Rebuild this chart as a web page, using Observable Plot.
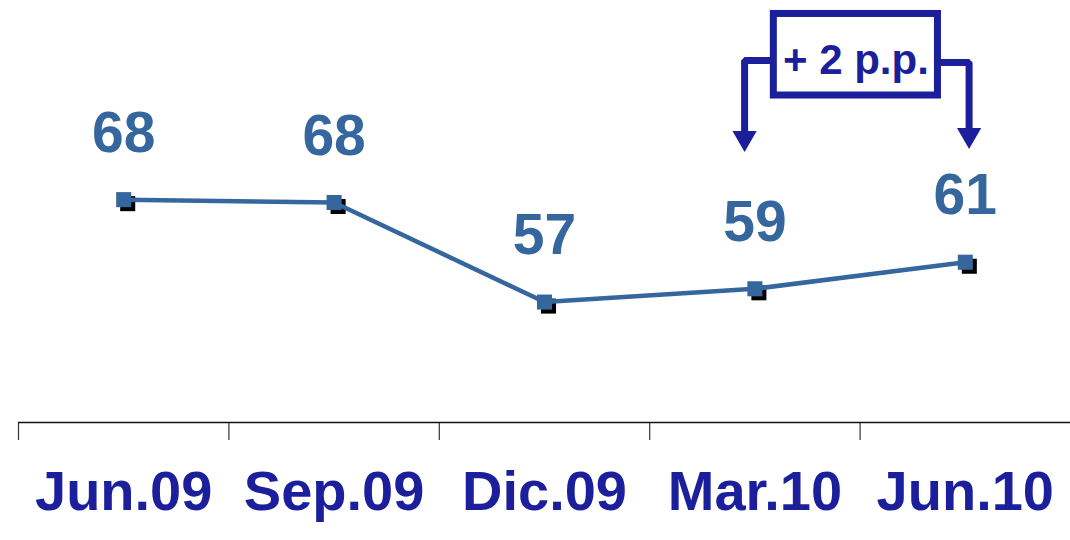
<!DOCTYPE html>
<html>
<head>
<meta charset="utf-8">
<script src="https://cdn.jsdelivr.net/npm/d3@7"></script>
<script src="https://cdn.jsdelivr.net/npm/@observablehq/plot@0.6"></script>
<style>
  html, body { margin: 0; padding: 0; background: #ffffff; }
  #chart svg { display: block; font-family: "Liberation Sans", Arial, sans-serif; }
</style>
</head>
<body>
<div id="chart"></div>
<script>
// ---- data ----
const categories = ["Jun.09", "Sep.09", "Dic.09", "Mar.10", "Jun.10"];
const values = [68.0, 67.7, 57.2, 58.6, 61.4];
const annotationText = "+ 2 p.p.";

// ---- styles ----
const lineColor = "#35679e";
const navy = "#1b1f9b";
const fontFamily = "'Liberation Sans', Arial, sans-serif";

const data = categories.map((c, i) => ({cat: c, idx: i, value: values[i], label: String(Math.round(values[i]))}));
const boundaries = categories.map((c, i) => i - 0.5);

// annotation geometry in data space (between Mar.10 and Jun.10)
const box = [{x1: 3.09, x2: 3.87, y1: 78.98, y2: 87.58}];
const leftArrow = [{x: 3.09, y: 82.67}, {x: 2.951, y: 82.67}, {x: 2.951, y: 75.2}];
const rightArrow = [{x: 3.87, y: 82.46}, {x: 4.018, y: 82.46}, {x: 4.018, y: 75.5}];
const heads = [{x: 2.951, y: 74.5}, {x: 4.018, y: 74.82}];

const chart = Plot.plot({
  width: 1070,
  height: 540,
  marginTop: 0,
  marginBottom: 118,
  marginLeft: 18,
  marginRight: 0,
  style: {fontFamily, background: "#ffffff"},
  x: {domain: [-0.5, 4.5], axis: null},
  y: {domain: [44.5, 89], axis: null},
  marks: [
    // category axis: baseline and boundary ticks
    Plot.axisX(boundaries, {tickSize: 18, tickFormat: () => "", stroke: "#333", strokeWidth: 1.2}),
    Plot.ruleY([44.5], {stroke: "#111", strokeWidth: 1.5}),
    // category labels
    Plot.text(data, {x: "idx", frameAnchor: "bottom", dy: 87, text: "cat", fontSize: 56, fontWeight: "bold", fill: navy}),
    // marker shadows
    Plot.dot(data, {x: "idx", y: "value", symbol: "square", r: 8.5, fill: "#000", dx: 4, dy: 4}),
    // line
    Plot.line(data, {x: "idx", y: "value", stroke: lineColor, strokeWidth: 4.5}),
    // markers
    Plot.dot(data, {x: "idx", y: "value", symbol: "square", r: 8.5, fill: lineColor}),
    // value labels
    Plot.text(data, {x: "idx", y: "value", text: "label", dy: -66, fontSize: 57, fontWeight: "bold", fill: lineColor}),
    // annotation arrows
    Plot.line(leftArrow, {x: "x", y: "y", stroke: navy, strokeWidth: 7, strokeLinejoin: "miter", strokeLinecap: "butt"}),
    Plot.line(rightArrow, {x: "x", y: "y", stroke: navy, strokeWidth: 7, strokeLinejoin: "miter", strokeLinecap: "butt"}),
    Plot.dot(heads, {x: "x", y: "y", symbol: "triangle", r: 9, rotate: 180, fill: navy}),
    // annotation box
    Plot.rect(box, {x1: "x1", x2: "x2", y1: "y1", y2: "y2", fill: "#ffffff", stroke: navy, strokeWidth: 7}),
    Plot.text([annotationText], {x: 3.48, y: 82.67, text: d => d, fontSize: 42, fontWeight: "bold", fill: navy})
  ]
});
document.getElementById("chart").appendChild(chart);
</script>
</body>
</html>
